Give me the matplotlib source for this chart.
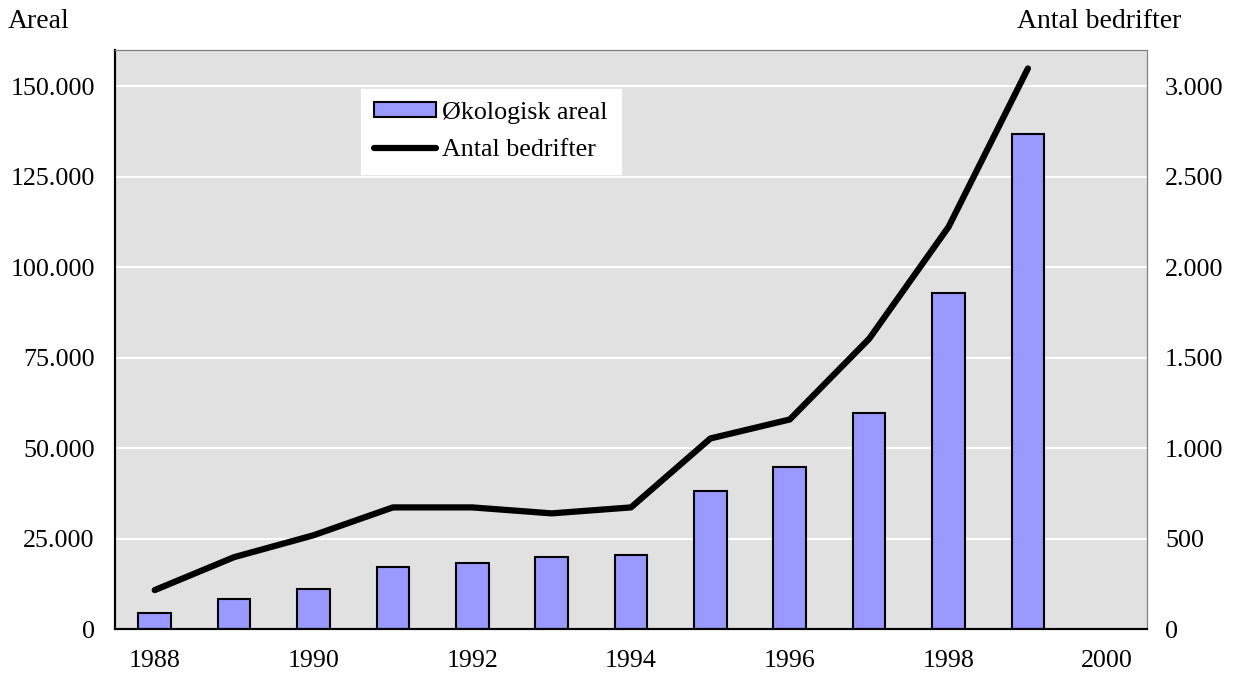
import numpy as np
import matplotlib
matplotlib.use('Agg')
from matplotlib import pyplot as plt
from matplotlib.ticker import FuncFormatter

years = [1988, 1989, 1990, 1991, 1992, 1993, 1994, 1995, 1996, 1997, 1998, 1999]
areal = [4400, 8300, 11000, 17100, 18200, 19900, 20400, 38000, 44700, 59800, 92800, 136700]
bedrifter = [215, 397, 518, 672, 672, 639, 672, 1053, 1158, 1604, 2222, 3098]

left_ticks = [0, 25000, 50000, 75000, 100000, 125000, 150000]
right_ticks = [0, 500, 1000, 1500, 2000, 2500, 3000]
x_ticks = [1988, 1990, 1992, 1994, 1996, 1998, 2000]

plt.rcParams['font.family'] = ['Liberation Serif', 'DejaVu Serif']
fs = 18.7

def dot_fmt(v, pos):
    return '{:,.0f}'.format(v).replace(',', '.')

fig = plt.figure(figsize=(12.42, 6.73), dpi=100)
ax = fig.add_axes([115/1242, 1 - 629/673, (1147-115)/1242, (629-50)/673])
ax.set_facecolor('#e1e1e1')
ax.set_axisbelow(True)
ax.yaxis.grid(True, color='white', lw=1.5)

bars = ax.bar(years, areal, width=0.41, color='#9999ff', edgecolor='black', lw=1.5,
              label='Økologisk areal', zorder=2)
ax.set_xlim(1987.5, 2000.5)
ax.set_ylim(0, 160000)
ax.set_yticks(left_ticks)
ax.set_xticks(x_ticks)
ax.yaxis.set_major_formatter(FuncFormatter(dot_fmt))
ax.tick_params(axis='y', length=0, pad=14.5, labelsize=fs)
ax.tick_params(axis='x', length=0, pad=15, labelsize=fs)

ax2 = ax.twinx()
line, = ax2.plot(years, bedrifter, color='black', lw=4.5, solid_capstyle='round',
                 label='Antal bedrifter', zorder=3)
ax2.set_ylim(0, 3200)
ax2.set_yticks(right_ticks)
ax2.yaxis.set_major_formatter(FuncFormatter(dot_fmt))
ax2.tick_params(axis='y', length=0, pad=13, labelsize=fs)

for a in (ax, ax2):
    a.spines['left'].set_color('black')
    a.spines['left'].set_linewidth(1.5)
    a.spines['bottom'].set_color('black')
    a.spines['bottom'].set_linewidth(1.5)
    a.spines['top'].set_color('#808080')
    a.spines['right'].set_color('#808080')

leg = ax2.legend([bars, line], ['Økologisk areal', 'Antal bedrifter'],
                 loc='upper left', bbox_to_anchor=(0.238, 0.933), borderaxespad=0,
                 fontsize=fs, frameon=True, fancybox=False, framealpha=1,
                 edgecolor='white', handlelength=2.4, handleheight=0.5,
                 handletextpad=0.25, borderpad=0.5, labelspacing=0.6)

fig.text(8/1242, 1 - 22/673, 'Areal', fontsize=20, ha='left', va='center')
fig.text(1181/1242, 1 - 22/673, 'Antal bedrifter', fontsize=20, ha='right', va='center')

fig.savefig('out.png', dpi=100)
